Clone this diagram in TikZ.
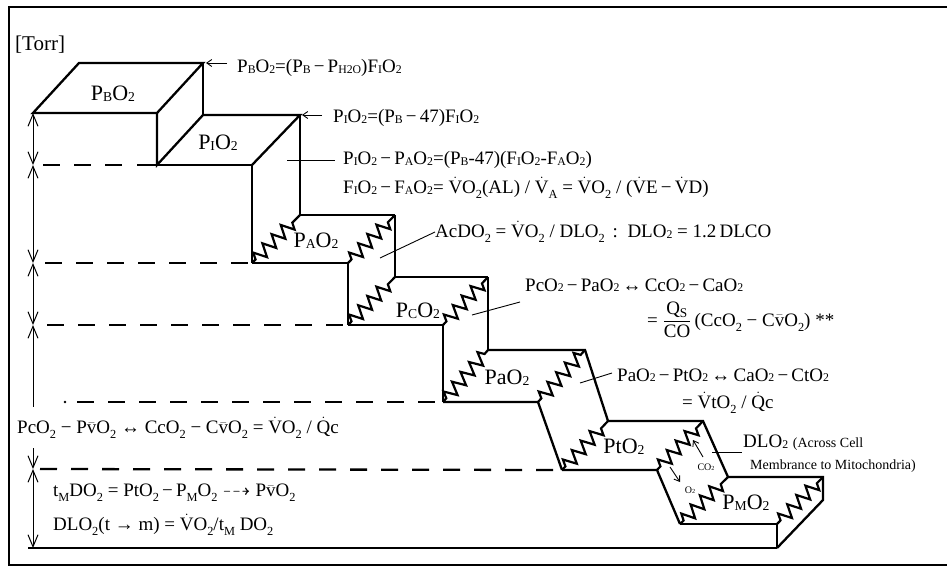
\documentclass[tikz,border=0pt]{standalone}
\usepackage{amssymb}
\usepackage{fontspec}
\setmainfont{Liberation Serif}
\usepackage{graphicx}
\usetikzlibrary{arrows.meta,decorations.pathmorphing}
\newcommand\ls[1]{\raisebox{-0.03em}{\scalebox{0.62}{#1}}}
\newcommand\lsub[1]{\raisebox{-0.28em}{\scalebox{0.65}{#1}}}
\newcommand\Vd{$\dot{\mathrm{V}}$}
\newcommand\Qd{$\dot{\mathrm{Q}}$}
\newcommand\vb{$\bar{\mathrm{v}}$}
\begin{document}
\begin{tikzpicture}[x=1pt,y=-1pt,
  edge/.style={line width=2.3pt},
  springline/.style={line width=2.2pt,decorate,decoration={zigzag,amplitude=6.5pt,segment length=13pt,pre length=5pt,post length=5pt}},
  dashline/.style={line width=2.3pt,dash pattern=on 17pt off 14pt},
  dimline/.style={line width=1pt},
  barb/.tip={Straight Barb[length=12pt,width=10pt]},
  thinline/.style={line width=0.9pt},
  callarrow/.style={line width=0.9pt,-{Straight Barb[length=5pt,width=7pt]}},
  txt/.style={anchor=west,inner sep=0pt,font=\fontsize{19}{22}\selectfont},
  smalltxt/.style={anchor=west,inner sep=0pt,font=\fontsize{14}{16}\selectfont},
  boxlab/.style={inner sep=0pt,font=\fontsize{22}{26}\selectfont}]
\useasboundingbox (0,0) rectangle (947,570);
% frame
\coordinate (f1) at (947,7); \coordinate (f2) at (9,7);
\coordinate (f3) at (9,565); \coordinate (f4) at (947,565);
\draw[line width=1.2pt] (f1) -- (f2) -- (f3) -- (f4);
% corners
\coordinate (b1) at (33,113); \coordinate (b2) at (157,113);
\coordinate (b3) at (203,63); \coordinate (b4) at (79,63);
\coordinate (b5) at (157,165); \coordinate (b6) at (203,115);
\coordinate (b7) at (137,165);
\coordinate (i1) at (300,115); \coordinate (i2) at (252,165);
\coordinate (i3) at (252,263); \coordinate (i4) at (300,215);
\coordinate (a1) at (395,215); \coordinate (a2) at (348,263);
\coordinate (a3) at (348,325); \coordinate (a4) at (395,277);
\coordinate (c1) at (488,277); \coordinate (c2) at (443,325);
\coordinate (c3) at (443,402); \coordinate (c4) at (488,350);
\coordinate (r1) at (585,350); \coordinate (r2) at (538,402);
\coordinate (r3) at (562,470); \coordinate (r4) at (608,421);
\coordinate (t1) at (703,421); \coordinate (t2) at (657,470);
\coordinate (t3) at (680,524); \coordinate (t4) at (728,477);
\coordinate (m1) at (823,477); \coordinate (m2) at (777,524);
\coordinate (m3) at (823,500); \coordinate (m4) at (777,548);
\coordinate (m0) at (28,548);
% PB box
\draw[edge] (b1) -- (b2) -- (b3) -- (b4) -- cycle;
\draw[edge] (b2) -- (b5) -- (b6);
\draw[edge] (b3) -- (b6);
% PI box
\draw[edge] (b6) -- (i1) -- (i2);
\draw[edge] (b7) -- (i2) -- (i3);
\draw[edge] (i1) -- (i4);
% PA box
\draw[edge] (i4) -- (a1); \draw[edge] (i3) -- (a2) -- (a3); \draw[edge] (a1) -- (a4);
\draw[springline] (i3) -- (i4); \draw[springline] (a2) -- (a1);
% PC box
\draw[edge] (a4) -- (c1); \draw[edge] (a3) -- (c2) -- (c3); \draw[edge] (c1) -- (c4);
\draw[springline] (a3) -- (a4); \draw[springline] (c2) -- (c1);
% Pa box
\draw[edge] (c4) -- (r1) -- (r4); \draw[edge] (c3) -- (r2) -- (r3);
\draw[springline] (c3) -- (c4); \draw[springline] (r2) -- (r1);
% Pt box
\draw[edge] (r4) -- (t1) -- (t4); \draw[edge] (r3) -- (t2) -- (t3);
\draw[springline] (r3) -- (r4); \draw[springline] (t2) -- (t1);
% PM box
\draw[edge] (t4) -- (m1) -- (m3) -- (m4); \draw[edge] (t3) -- (m2) -- (m4);
\draw[edge] (m0) -- (m4);
\draw[springline] (t3) -- (t4); \draw[springline] (m2) -- (m1);
% dashed levels
\coordinate (e1) at (43,165); \coordinate (e1b) at (130,165);
\coordinate (e2) at (45,263); \coordinate (e3) at (47,325);
\coordinate (e4) at (77,402); \coordinate (e4d) at (65,402);
\coordinate (e5) at (40,469);
\draw[dashline] (e1) -- (e1b);
\draw[dashline] (e2) -- (i3);
\draw[dashline] (e3) -- (a3);
\draw[dashline] (e4) -- (c3);
\fill (e4d) circle (1.3pt);
\draw[dashline] (e5) -- (r3);
% dimension arrows
\coordinate (d1) at (33,113); \coordinate (d2) at (33,165);
\coordinate (d3) at (33,263); \coordinate (d4) at (33,325);
\coordinate (d5) at (33,407); \coordinate (d6) at (33,448);
\coordinate (d7) at (33,469); \coordinate (d8) at (33,548);
\draw[dimline,barb-barb] (d1) -- (d2);
\draw[dimline,barb-barb] (d2) -- (d3);
\draw[dimline,barb-barb] (d3) -- (d4);
\draw[dimline,barb-] (d4) -- (d5);
\draw[dimline,-barb] (d6) -- (d7);
\draw[dimline,barb-barb] (d7) -- (d8);
% box labels
\node[boxlab] (lB) at (113,94) {P\ls{B}O\ls{2}};
\node[boxlab] (lI) at (218,143) {P\ls{I}O\ls{2}};
\node[boxlab] (lA) at (316,241) {P\ls{A}O\ls{2}};
\node[boxlab] (lC) at (418,311) {P\ls{C}O\ls{2}};
\node[boxlab] (la) at (507,378) {PaO\ls{2}};
\node[boxlab] (lt) at (624,447) {PtO\ls{2}};
\node[boxlab] (lM) at (746,503) {P\ls{M}O\ls{2}};
% texts
\node[txt,font=\fontsize{21}{24}\selectfont] (torr) at (15,45) {[Torr]};
\node[txt] (q1) at (237,68) {P\ls{B}O\ls{2}=(P\ls{B}\,−\,P\ls{H2O})F\ls{I}O\ls{2}};
\node[txt] (q2) at (333,118) {P\ls{I}O\ls{2}=(P\ls{B}\,−\,47)F\ls{I}O\ls{2}};
\node[txt] (q3) at (343,160) {P\ls{I}O\ls{2}\,−\,P\ls{A}O\ls{2}=(P\ls{B}-47)(F\ls{I}O\ls{2}-F\ls{A}O\ls{2})};
\node[txt] (q4) at (343,188) {F\ls{I}O\ls{2}\,−\,F\ls{A}O\ls{2}= \Vd O\lsub{2}(AL) / \Vd\lsub{A} = \Vd O\lsub{2} / (\Vd E\,−\,\Vd D)};
\node[txt] (q5) at (435,232) {AcDO\lsub{2} = \Vd O\lsub{2} / DLO\lsub{2} \,:\, DLO\ls{2} = 1.2\,DLCO};
\node[txt] (q6) at (525,285) {PcO\ls{2}\,−\,PaO\ls{2}\,↔\,CcO\ls{2}\,−\,CaO\ls{2}};
\node[txt] (q7) at (647,320) {= $\displaystyle\frac{\mathrm{Q_S}}{\mathrm{CO}}$\,(CcO\lsub{2} − C\vb O\lsub{2}) **};
\node[txt] (q8) at (617,375) {PaO\ls{2}\,−\,PtO\ls{2}\,↔\,CaO\ls{2}\,−\,CtO\ls{2}};
\node[txt] (q9) at (682,403) {= \Vd tO\lsub{2} / \Qd c};
\node[txt] (q10) at (743,443) {DLO\ls{2} {\fontsize{14}{16}\selectfont (Across Cell}};
\node[smalltxt] (q11) at (750,466) {Membrance to Mitochondria)};
\node[txt] (q12) at (17,428) {PcO\lsub{2} − P\vb O\lsub{2} ↔ CcO\lsub{2} − C\vb O\lsub{2} = \Vd O\lsub{2} / \Qd c};
\node[txt] (q13) at (53,493) {t\lsub{M}DO\lsub{2} = PtO\lsub{2}\,−\,P\lsub{M}O\lsub{2} $\dashrightarrow$ P\vb O\lsub{2}};
\node[txt] (q14) at (53,525) {DLO\lsub{2}(t → m) = \Vd O\lsub{2}/t\lsub{M} DO\lsub{2}};
\node[inner sep=0pt,font=\fontsize{10}{12}\selectfont] (co2) at (706,467) {CO\ls{2}};
\node[inner sep=0pt,font=\fontsize{10}{12}\selectfont] (o2) at (690,490) {O\ls{2}};
% callout arrows and leaders
\coordinate (k1) at (227,63); \coordinate (k1e) at (206,63);
\coordinate (k2) at (322,115); \coordinate (k2e) at (302,115);
\draw[callarrow] (k1) -- (k1e);
\draw[callarrow] (k2) -- (k2e);
\coordinate (l1a) at (287,160); \coordinate (l1b) at (335,160);
\draw[thinline] (l1a) -- (l1b);
\coordinate (l2a) at (380,258);
\draw[thinline] (l2a) -- (q5.west);
\coordinate (l3a) at (472,315); \coordinate (l3b) at (520,302);
\draw[thinline] (l3a) -- (l3b);
\coordinate (l4a) at (580,383); \coordinate (l4b) at (612,373);
\draw[thinline] (l4a) -- (l4b);
\coordinate (l5a) at (712,452); \coordinate (l5b) at (742,452);
\draw[thinline] (l5a) -- (l5b);
\coordinate (ar1a) at (703,457); \coordinate (ar1b) at (693,440);
\draw[callarrow] (ar1a) -- (ar1b);
\coordinate (ar2a) at (670,467); \coordinate (ar2b) at (680,482);
\draw[callarrow] (ar2a) -- (ar2b);
\end{tikzpicture}
\end{document}
